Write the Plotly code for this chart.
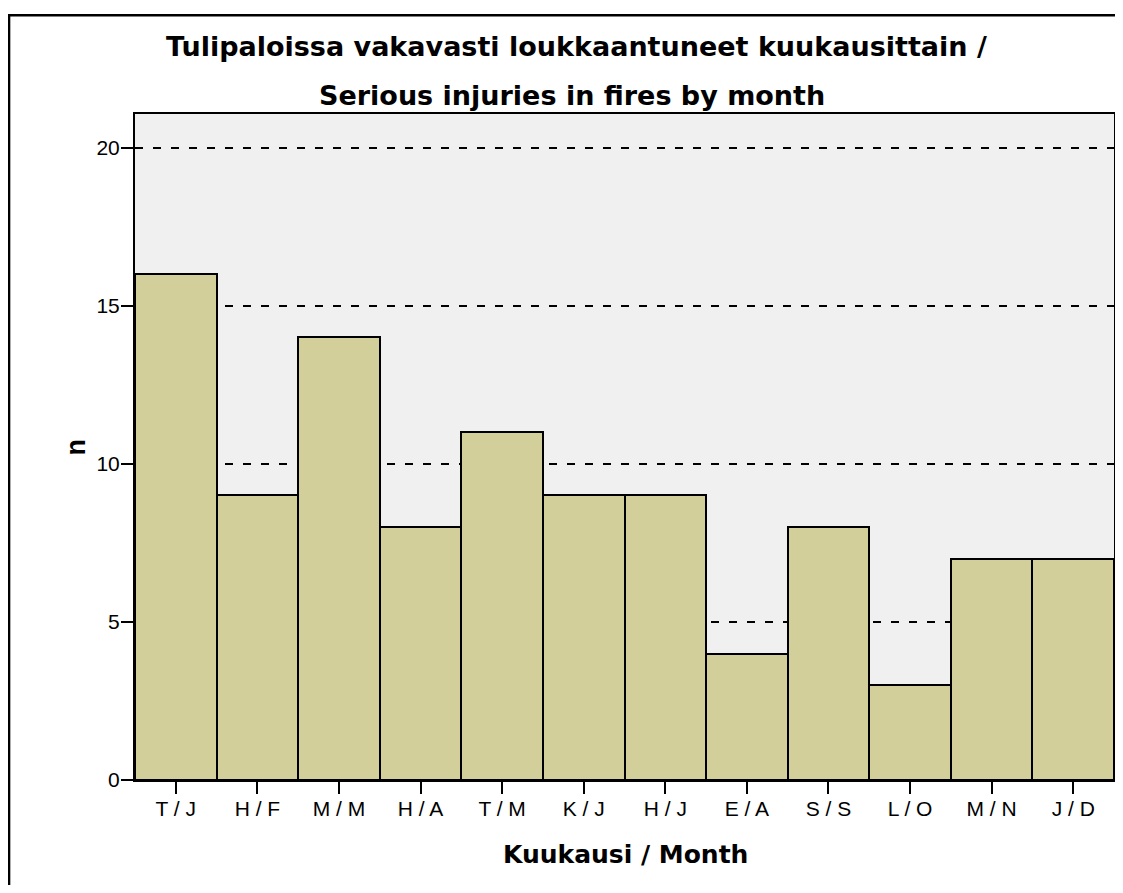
import plotly.graph_objects as go

months = ["T / J", "H / F", "M / M", "H / A", "T / M", "K / J", "H / J", "E / A", "S / S", "L / O", "M / N", "J / D"]
counts = [16, 9, 14, 8, 11, 9, 9, 4, 8, 3, 7, 7]
y_ticks = [0, 5, 10, 15, 20]

title_line1 = "Tulipaloissa vakavasti loukkaantuneet kuukausittain /"
title_line2 = "Serious injuries in fires by month"
x_title = "Kuukausi / Month"
y_title = "n"

OFF = 8  # page body margin
W, H = 1123 - OFF, 893 - 2 * OFF
# plot area in page coordinates
P_LEFT, P_RIGHT, P_TOP, P_BOTTOM = 134.5, 1114, 114.3, 780
L = P_LEFT - OFF
R = W - (P_RIGHT - OFF)
T = P_TOP - OFF
B = H - (P_BOTTOM - OFF)
pw = W - L - R
ph = H - T - B

def px(xpage):
    return (xpage - OFF - L) / pw

def py(ypage):
    return (H - B - (ypage - OFF)) / ph

fig = go.Figure()
fig.add_trace(go.Bar(
    x=list(range(len(months))), y=counts,
    width=1.0,
    marker=dict(color="#D3CF9A", line=dict(color="black", width=2)),
    showlegend=False, hoverinfo="skip",
))

arial = "Liberation Sans, Arial, sans-serif"
wide = "DejaVu Sans, Liberation Sans, sans-serif"

fig.update_layout(
    width=W, height=H,
    margin=dict(l=L, r=R, t=T, b=B, autoexpand=False),
    paper_bgcolor="white",
    plot_bgcolor="#F0F0F0",
    bargap=0,
    font=dict(family=arial, color="black", size=20),
    xaxis=dict(
        range=[-0.5, 11.5],
        tickmode="array", tickvals=list(range(len(months))), ticktext=months,
        ticks="outside", ticklen=12, tickwidth=2, tickcolor="black",
        showline=True, linecolor="black", linewidth=2, mirror=True,
        showgrid=False, zeroline=False,
        tickfont=dict(size=21),
        ticklabelstandoff=-3,
    ),
    yaxis=dict(
        range=[0, 21.06],
        tickmode="array", tickvals=y_ticks,
        ticks="outside", ticklen=12, tickwidth=2, tickcolor="black",
        showline=True, linecolor="black", linewidth=2, mirror=True,
        showgrid=True, gridcolor="black", gridwidth=1.8, griddash="8px,10px",
        zeroline=False,
        tickfont=dict(size=21),
        ticklabelstandoff=-3,
    ),
)

def ann(text, xpage, ybase, size, family):
    return dict(text="<b>" + text + "</b>", x=px(xpage), y=py(ybase), xref="paper", yref="paper",
                xanchor="center", yanchor="bottom", showarrow=False,
                font=dict(size=size, family=family), yshift=-0.25 * size)

annotations = [
    ann(title_line1, 576, 57.3, 27, wide),
    ann(title_line2, 572, 107, 27, wide),
    ann(x_title, 625, 864.3, 25, wide),
    dict(text="<b>" + y_title + "</b>", x=px(75), y=py(447), xref="paper", yref="paper",
         xanchor="center", yanchor="middle", showarrow=False,
         font=dict(size=27, family=arial), textangle=-90),
]
fig.update_layout(annotations=annotations)

fig.add_shape(type="rect", xref="paper", yref="paper",
              x0=px(8.5), x1=px(1300), y0=py(1100), y1=py(15.7),
              line=dict(color="black", width=2.5), fillcolor="rgba(0,0,0,0)", layer="above")

fig.write_html("out.html")
